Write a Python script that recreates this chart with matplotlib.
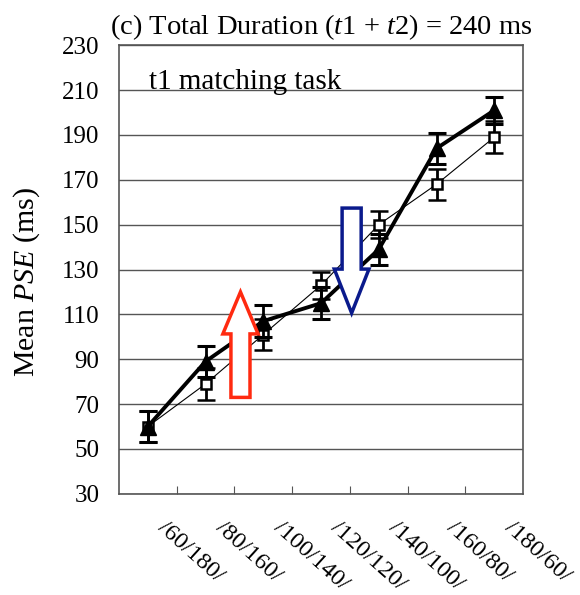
import numpy as np
import matplotlib
matplotlib.use('Agg')
import matplotlib.pyplot as plt
import matplotlib.transforms as mtransforms
from matplotlib.patches import Polygon

plt.rcParams['font.family'] = ['Liberation Serif', 'DejaVu Serif']
plt.rcParams['mathtext.fontset'] = 'custom'
plt.rcParams['mathtext.rm'] = 'Liberation Serif'
plt.rcParams['mathtext.it'] = 'Liberation Serif:italic'

# data
labels = ['/60/180/', '/80/160/', '/100/140/', '/120/120/', '/140/100/', '/160/80/', '/180/60/']
tri_pse = [60, 89, 107, 115, 139, 184, 201]
tri_err = [7, 7, 7, 7, 7, 7, 6]
sq_pse = [60, 79, 101, 123, 150, 168, 189]
sq_err = [7, 7, 7, 6, 6, 7, 7]
yticks = list(range(30, 231, 20))


def hollow_arrow(ax, x, y_tail, y_tip, shaft_w, head_w, head_len, color):
    # outline arrow, pointing up or down
    d = 1 if y_tip > y_tail else -1
    y_base = y_tip - d * head_len
    pts = [(x - shaft_w/2, y_tail), (x - shaft_w/2, y_base), (x - head_w/2, y_base),
           (x, y_tip), (x + head_w/2, y_base), (x + shaft_w/2, y_base),
           (x + shaft_w/2, y_tail)]
    ax.add_patch(Polygon(pts, closed=True, facecolor='white', edgecolor=color,
                         linewidth=2.5, zorder=6, joinstyle='miter'))


fig = plt.figure(figsize=(5.8, 5.95), dpi=100)
ax = fig.add_axes([0.205, 0.170, 0.697, 0.754])

x = np.arange(len(labels)) + 0.5

ax.errorbar(x, sq_pse, yerr=sq_err, color='black', lw=0.8, marker='s', ms=7.5,
            mfc='white', mec='black', mew=1.8, ecolor='black', elinewidth=2,
            capsize=6.5, capthick=2.2, zorder=4)
ax.errorbar(x, tri_pse, yerr=tri_err, color='black', lw=2.8, marker='^', ms=11,
            mfc='black', mec='black', ecolor='black', elinewidth=2,
            capsize=6.5, capthick=2.2, zorder=5)

hollow_arrow(ax, 2.105, 73, 120, 0.33, 0.61, 18.7, '#ff2a10')
hollow_arrow(ax, 4.03, 157.4, 110.6, 0.33, 0.60, 19.6, '#0a1a8c')

ax.set_xlim(0, 7)
ax.set_ylim(30, 230)
ax.set_yticks(yticks)
ax.yaxis.grid(True, color='#555555', lw=1)
ax.set_axisbelow(True)
ax.tick_params(axis='y', length=0, pad=14, labelsize=18)

ax.set_xticks(np.arange(1, 7))
ax.set_xticklabels([])
ax.set_xticks(x, minor=True)
ax.set_xticklabels(labels, minor=True, rotation=-42, ha='left', va='top',
                   fontsize=17.5)
ax.tick_params(axis='x', which='major', direction='in', length=6, color='#555555')
ax.tick_params(axis='x', which='minor', length=0, pad=17)
shift = mtransforms.ScaledTranslation(0.06, 0, fig.dpi_scale_trans)
for lab in ax.get_xticklabels(minor=True):
    lab.set_transform(lab.get_transform() + shift)

for s in ax.spines.values():
    s.set_color('#555555')
    s.set_linewidth(1.2)

ax.set_ylabel('Mean $\\mathit{PSE}$ (ms)', fontsize=21.5)
ax.yaxis.set_label_coords(-0.19, 0.472)
ax.set_title('(c) Total Duration ($\\mathit{t1}$ + $\\mathit{t2}$) = 240 ms',
             fontsize=20.5, pad=8)
ax.text(0.52, 210.5, 't1 matching task', fontsize=21, va='baseline', ha='left')

fig.savefig('out.png', dpi=100)
